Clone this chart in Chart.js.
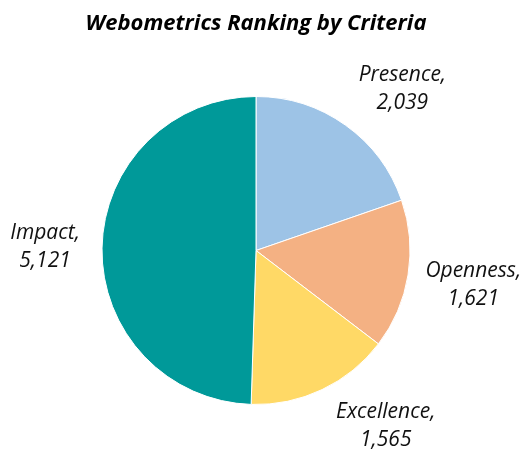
<!DOCTYPE html>
<html>
<head>
<meta charset="utf-8">
<script src="https://cdn.jsdelivr.net/npm/chart.js@4"></script>
<style>
  html, body { margin: 0; padding: 0; background: #fff; }
  #wrap { width: 525px; height: 451px; }
</style>
</head>
<body>
<div id="wrap"><canvas id="webChart" width="525" height="451"></canvas></div>
<script>
const chartTitle = 'Webometrics Ranking by Criteria';
const categories = ['Presence', 'Openness', 'Excellence', 'Impact'];
const values = [2039, 1621, 1565, 5121];
const valueLabels = ['2,039', '1,621', '1,565', '5,121'];
const sliceColors = ['#9dc3e6', '#f4b183', '#ffd966', '#009999'];

const FONT = '"Open Sans", "Noto Sans", sans-serif';

// outside labels, placed from each arc's middle angle, nudged a bit like the original
const labelNudge = [[21, 14], [4, 0], [37, -20], [5, 0]];

// the layout padding squeezes the built-in title box, so the title is drawn here
// centred over the pie instead
const titleAndLabels = {
    id: 'titleAndLabels',
    afterDatasetsDraw(chart) {
        const ctx = chart.ctx;
        const meta = chart.getDatasetMeta(0);
        ctx.save();
        ctx.textAlign = 'center';
        ctx.textBaseline = 'middle';

        ctx.font = 'italic bold 22px ' + FONT;
        ctx.fillStyle = '#000';
        ctx.fillText(chartTitle, meta.data[0].x, 24);

        ctx.font = 'italic 21px ' + FONT;
        ctx.fillStyle = '#111';
        meta.data.forEach((arc, i) => {
            const p = arc.getProps(['x', 'y', 'startAngle', 'endAngle', 'outerRadius'], true);
            const mid = (p.startAngle + p.endAngle) / 2;
            const dist = p.outerRadius + 62;
            const x = p.x + Math.cos(mid) * dist + labelNudge[i][0];
            const y = p.y + Math.sin(mid) * dist + labelNudge[i][1];
            ctx.fillText(categories[i] + ',', x, y - 14);
            ctx.fillText(valueLabels[i], x, y + 14);
        });
        ctx.restore();
    }
};

new Chart(document.getElementById('webChart'), {
    type: 'pie',
    data: {
        labels: categories,
        datasets: [{
            data: values,
            backgroundColor: sliceColors,
            borderColor: '#ffffff',
            borderWidth: 1
        }]
    },
    options: {
        responsive: false,
        animation: false,
        layout: { padding: { left: 100, right: 113, top: 96, bottom: 46 } },
        plugins: {
            legend: { display: false },
            tooltip: { enabled: false },
            title: { display: false }
        }
    },
    plugins: [titleAndLabels]
});
</script>
</body>
</html>
